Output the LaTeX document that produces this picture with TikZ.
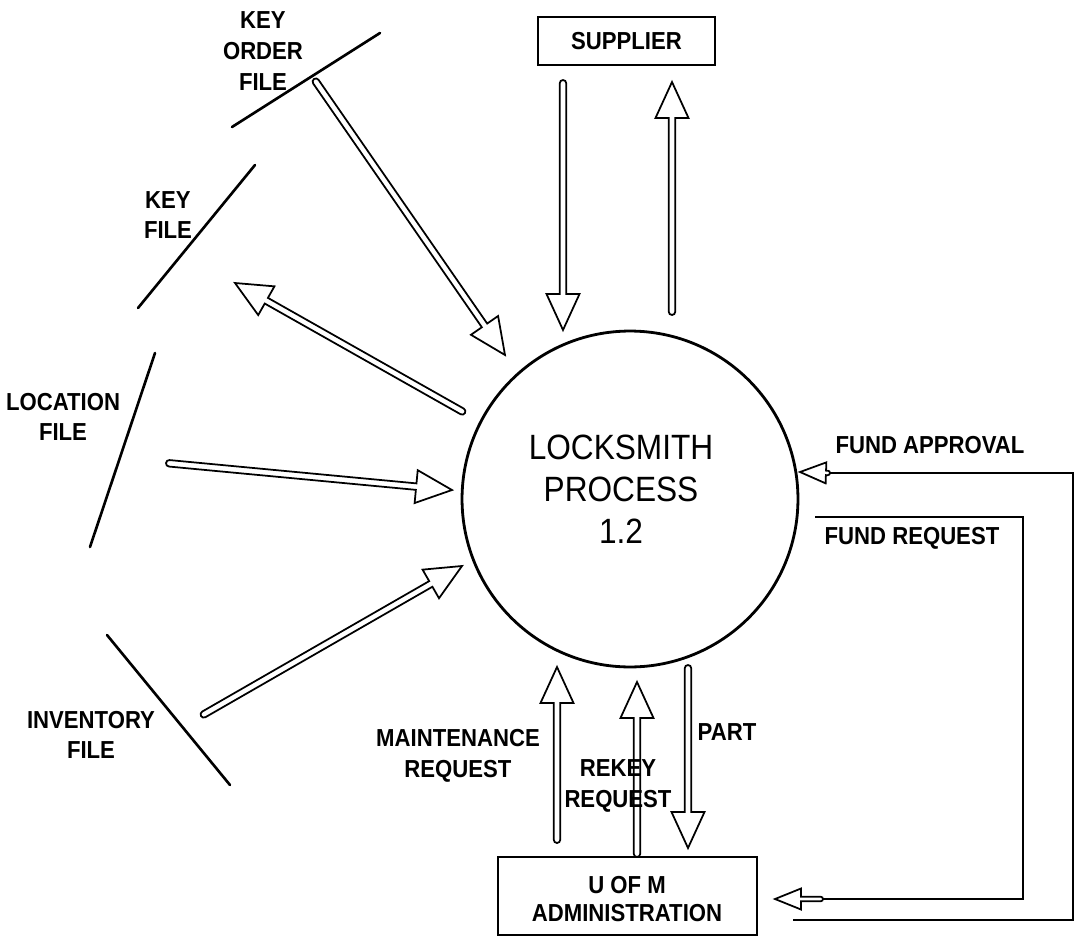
\documentclass[tikz,border=0pt]{standalone}
\usepackage{fontspec}
\usetikzlibrary{calc}
\setmainfont{Liberation Sans}
\newfontfamily\lblfam{Liberation Sans}[FakeStretch=0.9]

% Hollow data-flow arrow: tail, tip, head length, head half width, shaft half width
\newcommand\flow[5]{%
  \coordinate (fl-s) at (#1);
  \coordinate (fl-t) at (#2);
  \coordinate (fl-b) at ($(fl-t)!#3!(fl-s)$);
  \draw[flowline] ($(fl-b)!#5!90:(fl-t)$) -- ($(fl-b)!#4!90:(fl-t)$) -- (fl-t)
     -- ($(fl-b)!#4!-90:(fl-t)$) -- ($(fl-b)!#5!-90:(fl-t)$)
     [rounded corners=#5] -- ($(fl-s)!#5!-90:(fl-t)$) -- ($(fl-s)!#5!90:(fl-t)$)
     [sharp corners] -- cycle;
}
\newcommand\bigflow[2]{\flow{#1}{#2}{0.72cm}{0.33cm}{0.065cm}}
\newcommand\smallflow[2]{\flow{#1}{#2}{0.52cm}{0.21cm}{0.045cm}}

\begin{document}
\begin{tikzpicture}[x=0.02cm,y=-0.02cm,
  every node/.style={inner sep=0pt, outer sep=0pt},
  lbl/.style={font=\lblfam\bfseries\fontsize{14}{17.5}\selectfont, align=center},
  proctext/.style={font=\lblfam\fontsize{20}{24}\selectfont, align=center},
  store/.style={line width=1.5pt, line cap=round},
  entity/.style={draw, line width=1.2pt, rectangle},
  flowline/.style={line width=1pt, line join=miter, fill=white},
  wire/.style={line width=1.1pt},
]
\useasboundingbox (0,0) rectangle (1075,940);

% central process
\node[draw, circle, line width=1.6pt, minimum size=6.72cm] (proc) at (630,499) {};
\node[proctext] (proclabel) at (621,489) {LOCKSMITH\\PROCESS\\1.2};

% external entities
\node[entity, minimum width=3.54cm, minimum height=0.96cm] (sup) at (626.5,41) {};
\node[lbl] (suplabel) at (626.5,41) {SUPPLIER};
\node[entity, minimum width=5.18cm, minimum height=1.56cm] (uom) at (627.5,896) {};
\node[lbl, font=\lblfam\bfseries\fontsize{14}{16}\selectfont] (uomlabel) at (627,899) {U OF M\\ADMINISTRATION};

% data stores
\coordinate (ko-a) at (232,127); \coordinate (ko-b) at (380,33);
\draw[store] (ko-a) -- (ko-b);
\node[lbl] (kolabel) at (263,51) {KEY\\ORDER\\FILE};

\coordinate (kf-a) at (138,308); \coordinate (kf-b) at (255,165);
\draw[store] (kf-a) -- (kf-b);
\node[lbl] (kflabel) at (168,215) {KEY\\FILE};

\coordinate (lf-a) at (90,547); \coordinate (lf-b) at (155,353);
\draw[store] (lf-a) -- (lf-b);
\node[lbl] (lflabel) at (63,417) {LOCATION\\FILE};

\coordinate (if-a) at (107,635); \coordinate (if-b) at (230,785);
\draw[store] (if-a) -- (if-b);
\node[lbl] (iflabel) at (91,735) {INVENTORY\\FILE};

% flow end points
\coordinate (ko-s) at (314,79);   \coordinate (ko-t) at (505,355);
\coordinate (kf-s) at (465,413);  \coordinate (kf-t) at (235,283);
\coordinate (lf-s) at (166,463);  \coordinate (lf-t) at (452,490);
\coordinate (if-s) at (201,716);  \coordinate (if-t) at (462,566);
\coordinate (sin-s) at (563,80);  \coordinate (sin-t) at (563,330);
\coordinate (sout-s) at (672,315);\coordinate (sout-t) at (672,82);
\coordinate (mr-s) at (557,843);  \coordinate (mr-t) at (557,667);
\coordinate (rk-t) at (637,682);
\coordinate (pt-s) at (688,665);  \coordinate (pt-t) at (688,848);

\bigflow{ko-s}{ko-t}
\bigflow{kf-s}{kf-t}
\bigflow{lf-s}{lf-t}
\bigflow{if-s}{if-t}
\bigflow{sin-s}{sin-t}
\bigflow{sout-s}{sout-t}
\bigflow{mr-s}{mr-t}
\bigflow{uom.north -| rk-t}{rk-t}
\bigflow{pt-s}{pt-t}

% fund approval loop
\coordinate (fa-a) at (793,920); \coordinate (fa-b) at (1073,920);
\coordinate (fa-c) at (1073,473); \coordinate (fa-s) at (830,473);
\coordinate (fa-t) at (800,472);
\draw[wire] (fa-a) -- (fa-b) -- (fa-c) -- (fa-s);
\smallflow{fa-s}{fa-t}
\node[lbl] (falabel) at (930,445) {FUND APPROVAL};

% fund request loop
\coordinate (fr-a) at (815,517); \coordinate (fr-b) at (1023,517);
\coordinate (fr-c) at (1023,899); \coordinate (fr-s) at (823,899);
\coordinate (fr-t) at (775,899);
\draw[wire] (fr-a) -- (fr-b) -- (fr-c) -- (fr-s);
\smallflow{fr-s}{fr-t}
\node[lbl] (frlabel) at (912,538) {FUND REQUEST};

% flow labels
\node[lbl] (mrlabel) at (458,756) {MAINTENANCE\\REQUEST};
\node[lbl] (rklabel) at (618,786) {REKEY\\REQUEST};
\node[lbl] (ptlabel) at (727,732) {PART};
\end{tikzpicture}
\end{document}
